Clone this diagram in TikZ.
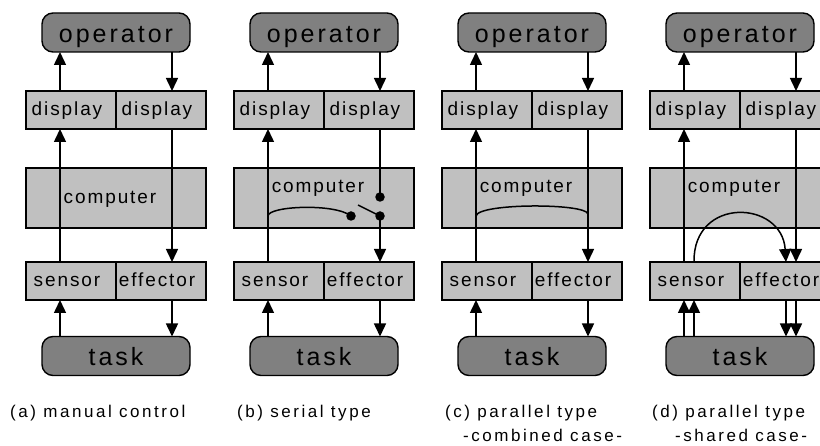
\documentclass[tikz,border=0pt]{standalone}
\usepackage{fontspec}
\setmainfont{Liberation Sans}
\newfontfamily\bigsans[LetterSpace=12]{Liberation Sans}
\newfontfamily\midsans[LetterSpace=10]{Liberation Sans}
\newfontfamily\capsans[LetterSpace=15]{Liberation Sans}
\usetikzlibrary{arrows.meta,positioning,calc}
\definecolor{EndGray}{HTML}{808080}
\definecolor{BoxGray}{HTML}{C0C0C0}

\begin{document}
\begin{tikzpicture}[x=1pt,y=-1pt,>={Triangle[length=13pt,width=12pt]},
  endnode/.style={draw,line width=1.4pt,fill=EndGray,rounded corners=11pt,
    minimum width=148pt,minimum height=39pt,inner sep=0pt,outer sep=0pt,
    text height=20pt,text depth=0pt,font={\bigsans\fontsize{25}{30}\selectfont}},
  cell/.style={draw,line width=1.4pt,fill=BoxGray,minimum width=90pt,
    minimum height=38pt,inner sep=0pt,outer sep=0pt,text height=12pt,text depth=0pt,
    font={\midsans\fontsize{19}{23}\selectfont},execute at end node={\hspace*{8pt}}},
  cpubox/.style={draw,line width=1.4pt,fill=BoxGray,minimum width=180pt,
    minimum height=60pt,inner sep=0pt,outer sep=0pt},
  cpulabel/.style={inner sep=0pt,text height=12pt,text depth=0pt,
    font={\midsans\fontsize{19}{23}\selectfont}},
  flow/.style={->,line width=1.5pt},
  link/.style={line width=1.5pt},
  dot/.style={circle,fill=black,inner sep=0pt,minimum size=9.5pt},
  caption/.style={anchor=west,inner sep=0pt,text height=12pt,text depth=0pt,
    font={\capsans\fontsize{17}{20}\selectfont}}]
\clip (0,0) rectangle (820,446);

% the four panels
\foreach \x/\p in {26/a,234/b,442/c,650/d}{
  \coordinate (L-\p) at ({\x+34},0);
  \coordinate (R-\p) at ({\x+146},0);
  \node[endnode] (op-\p) at ({\x+90},32.5) {operator};
  \node[cell] (dl-\p) at ({\x+45},110) {display};
  \node[cell,right=0pt of dl-\p] (dr-\p) {display};
  \node[cpubox] (cpu-\p) at ({\x+90},198) {};
  \node[cell] (sen-\p) at ({\x+45},281) {sensor};
  \node[cell,right=0pt of sen-\p] (eff-\p) {effector};
  \node[endnode] (task-\p) at ({\x+90},356) {task};
}
\coordinate (L2-d) at (694,0);
\coordinate (R2-d) at (786,0);

\foreach \p in {a,b,c,d}{
  \draw[flow] (dl-\p.north -| L-\p) -- (op-\p.south -| L-\p);
  \draw[flow] (op-\p.south -| R-\p) -- (dr-\p.north -| R-\p);
  \draw[flow] (task-\p.north -| L-\p) -- (sen-\p.south -| L-\p);
  \draw[flow] (sen-\p.north -| L-\p) -- (dl-\p.south -| L-\p);
  \draw[flow] (eff-\p.south -| R-\p) -- (task-\p.north -| R-\p);
}
\foreach \p in {a,c,d}
  \draw[flow] (dr-\p.south -| R-\p) -- (eff-\p.north -| R-\p);

% serial: switch
\coordinate (tap-b) at (268,216);
\coordinate (blade-b) at (358,205);
\node[dot] (swtop-b) at (380,197) {};
\node[dot] (swpiv-b) at (380,216) {};
\draw[link] (dr-b.south -| R-b) -- (swtop-b.center);
\draw[link] (swpiv-b.center) -- (blade-b);
\draw[flow] (swpiv-b.center) -- (eff-b.north -| R-b);
\draw[link] (tap-b) .. controls (268,206) and (335,203) .. (351,216);
\node[dot] (swend-b) at (351,216) {};

% parallel, combined
\coordinate (tapl-c) at (476,216);
\coordinate (tapr-c) at (588,214);
\draw[link] (tapl-c) .. controls (478,203) and (586,203) .. (tapr-c);

% parallel, shared
\draw[flow] (task-d.north -| L2-d) -- (sen-d.south -| L2-d);
\draw[flow] (eff-d.south -| R2-d) -- (task-d.north -| R2-d);
\draw[flow] (sen-d.north -| L2-d) .. controls (693,196) and (782,200) .. (eff-d.north -| R2-d);

\foreach \x/\p/\cy in {26/a/198,234/b/187,442/c/187,650/d/187}
  \node[cpulabel] (cpulab-\p) at ({\x+84},\cy) {computer};

\node[caption] (cap-a) at (10,412) {(a) manual control};
\node[caption] (cap-b) at (237,412) {(b) serial type};
\node[caption] (cap-c) at (445,412) {(c) parallel type};
\node[caption] (cap-c2) at (463,436) {-combined case-};
\node[caption] (cap-d) at (652,412) {(d) parallel type};
\node[caption] (cap-d2) at (675,436) {-shared case-};
\end{tikzpicture}
\end{document}
